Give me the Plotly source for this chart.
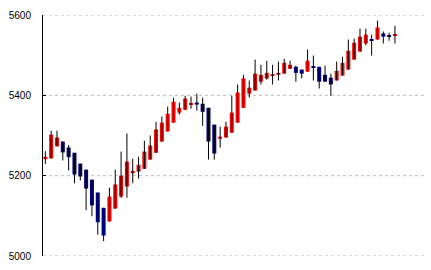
import plotly.graph_objects as go

opens  = [5241,5243,5273,5285,5270,5257,5230,5215,5190,5158,5120,5086,5118,5148,5173,5206,5210,5217,5240,5257,
          5285,5310,5332,5357,5364,5377,5382,5379,5369,5327,5292,5295,5307,5332,5369,5404,5412,5434,5442,5449,
          5451,5454,5466,5471,5464,5459,5472,5471,5451,5444,5437,5449,5464,5489,5509,5529,5539,5539,5554,5550,5549]
highs  = [5261,5312,5312,5285,5276,5257,5230,5215,5190,5158,5120,5170,5215,5260,5305,5242,5247,5287,5300,5334,
          5347,5372,5394,5382,5399,5397,5404,5394,5369,5327,5322,5334,5399,5427,5451,5437,5489,5476,5486,5476,
          5484,5491,5486,5474,5464,5514,5499,5471,5474,5454,5484,5496,5539,5541,5566,5566,5551,5586,5559,5556,5573]
lows   = [5229,5243,5273,5238,5213,5181,5188,5114,5099,5053,5037,5086,5118,5145,5145,5181,5193,5217,5240,5257,
          5285,5310,5332,5352,5364,5367,5362,5324,5240,5240,5270,5295,5307,5332,5369,5394,5412,5427,5439,5427,
          5437,5454,5466,5434,5442,5459,5437,5417,5434,5399,5437,5449,5464,5489,5509,5524,5499,5539,5529,5536,5529]
closes = [5247,5302,5295,5258,5246,5203,5198,5168,5126,5084,5051,5148,5178,5200,5235,5212,5227,5260,5275,5315,
          5332,5354,5384,5369,5392,5380,5377,5359,5285,5255,5297,5322,5357,5407,5442,5419,5454,5451,5456,5452,
          5456,5481,5476,5456,5454,5486,5469,5434,5434,5427,5461,5481,5511,5531,5546,5551,5536,5569,5546,5546,5552]
y_ticks = [5000, 5200, 5400, 5600]
y_tick_labels = ["5000", "5200", "5400", "5600"]

UP = "#ff0000"
DOWN = "#000088"

n = len(opens)
xs = list(range(n))

wx, wy = [], []
for i in xs:
    wx += [i, i, None]
    wy += [lows[i], highs[i], None]

fig = go.Figure()
fig.add_trace(go.Scatter(x=wx, y=wy, mode="lines", line=dict(color="black", width=1),
                         hoverinfo="skip", showlegend=False))

up_idx = [i for i in xs if closes[i] >= opens[i]]
dn_idx = [i for i in xs if closes[i] < opens[i]]
for idx, col in ((up_idx, UP), (dn_idx, DOWN)):
    fig.add_trace(go.Bar(
        x=idx,
        base=[min(opens[i], closes[i]) for i in idx],
        y=[abs(closes[i] - opens[i]) for i in idx],
        width=0.69, marker=dict(color=col, line=dict(width=0)),
        showlegend=False))

for v in y_ticks:
    fig.add_shape(type="line", xref="paper", yref="y", x0=0, x1=1, y0=v, y1=v,
                  line=dict(color="#bdbdbd", width=1, dash="3px,3px"), layer="below")

fig.update_layout(
    width=431, height=270,
    margin=dict(l=43, r=4, t=15, b=14),
    paper_bgcolor="white", plot_bgcolor="white",
    barmode="overlay",
    font=dict(family="Liberation Sans", size=10, color="black"),
    xaxis=dict(range=[-0.4, 65.5], showgrid=False, showticklabels=False, zeroline=False,
               showline=False, ticks=""),
    yaxis=dict(range=[5000, 5600], tickvals=y_ticks, ticktext=y_tick_labels,
               showgrid=False,
               showline=True, linecolor="black", linewidth=1,
               ticks="inside", ticklen=3, tickcolor="black",
               ticklabelstandoff=9, zeroline=False),
)

fig.write_html("out.html")
